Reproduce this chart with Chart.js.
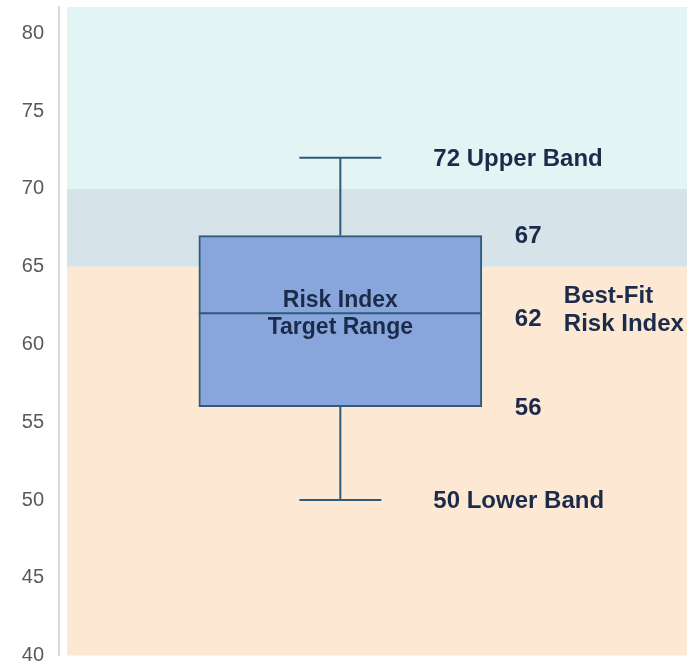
<!DOCTYPE html>
<html>
<head>
<meta charset="utf-8">
<script src="https://cdn.jsdelivr.net/npm/chart.js@4/dist/chart.umd.min.js"></script>
<style>
  html, body { margin: 0; padding: 0; background: #ffffff; }
  #wrap { width: 687px; height: 662px; position: relative; }
</style>
</head>
<body>
<div id="wrap"><canvas id="riskChart"></canvas></div>
<script>
// Risk index box plot over shaded zones

const yMin = 40;
const yMax = 81.7;
const yStep = 5;

// shaded zones behind the box (low, high, colour)
const zoneLows = [40, 65, 70];
const zoneHighs = [65, 70, 81.7];
const zoneColors = ['#fde9d3', '#d6e3e9', '#e3f4f5'];

// five-number summary
const whiskerLow = 50;
const boxLow = 56;
const median = 62;
const boxHigh = 67;
const whiskerHigh = 72;
const boxPosition = 44.8;

const boxTitle = ['Risk Index', 'Target Range'];
const medianTitle = ['Best-Fit', 'Risk Index'];
const upperName = 'Upper Band';
const lowerName = 'Lower Band';

const textColor = '#1c2b4a';
const lineColor = '#2e5b7b';

const zonesPlugin = {
  id: 'zones',
  beforeDatasetsDraw(chart) {
    const { ctx, chartArea } = chart;
    const y = chart.scales.y;
    ctx.save();
    for (let i = 0; i < zoneLows.length; i++) {
      const top = y.getPixelForValue(zoneHighs[i]);
      const bottom = y.getPixelForValue(zoneLows[i]);
      ctx.fillStyle = zoneColors[i];
      ctx.fillRect(chartArea.left + 8, top, chartArea.right - chartArea.left - 8, bottom - top);
    }
    ctx.restore();
  }
};

const boxPlotPlugin = {
  id: 'boxExtras',
  afterDatasetsDraw(chart) {
    const { ctx } = chart;
    const y = chart.scales.y;
    const bar = chart.getDatasetMeta(0).data[0];
    const cx = bar.x;
    const half = bar.width / 2;
    const capHalf = 41;

    ctx.save();
    ctx.strokeStyle = lineColor;
    ctx.lineWidth = 2;
    ctx.beginPath();
    // whiskers
    ctx.moveTo(cx, y.getPixelForValue(boxHigh));
    ctx.lineTo(cx, y.getPixelForValue(whiskerHigh));
    ctx.moveTo(cx - capHalf, y.getPixelForValue(whiskerHigh));
    ctx.lineTo(cx + capHalf, y.getPixelForValue(whiskerHigh));
    ctx.moveTo(cx, y.getPixelForValue(boxLow));
    ctx.lineTo(cx, y.getPixelForValue(whiskerLow));
    ctx.moveTo(cx - capHalf, y.getPixelForValue(whiskerLow));
    ctx.lineTo(cx + capHalf, y.getPixelForValue(whiskerLow));
    // median
    ctx.moveTo(cx - half, y.getPixelForValue(median));
    ctx.lineTo(cx + half, y.getPixelForValue(median));
    ctx.stroke();

    ctx.fillStyle = textColor;
    ctx.textBaseline = 'middle';
    const medY = y.getPixelForValue(median);

    // title inside the box
    ctx.font = 'bold 23px "Liberation Sans", Arial, sans-serif';
    ctx.textAlign = 'center';
    ctx.fillText(boxTitle[0], cx, medY - 13);
    ctx.fillText(boxTitle[1], cx, medY + 14);

    ctx.font = 'bold 24px "Liberation Sans", Arial, sans-serif';
    ctx.textAlign = 'left';
    // whisker labels
    ctx.fillText(whiskerHigh + ' ' + upperName, cx + capHalf + 52, y.getPixelForValue(whiskerHigh) + 2);
    ctx.fillText(whiskerLow + ' ' + lowerName, cx + capHalf + 52, y.getPixelForValue(whiskerLow) + 1);
    // box values
    const valX = cx + half + 33;
    ctx.fillText(String(boxHigh), valX, y.getPixelForValue(boxHigh) + 1);
    ctx.fillText(String(median), valX, medY + 6);
    ctx.fillText(String(boxLow), valX, y.getPixelForValue(boxLow) + 2);
    // median caption
    ctx.fillText(medianTitle[0], valX + 49, medY - 17);
    ctx.fillText(medianTitle[1], valX + 49, medY + 11);
    ctx.restore();
  }
};

new Chart(document.getElementById('riskChart'), {
  type: 'bar',
  data: {
    datasets: [{
      data: [{ x: boxPosition, y: [boxLow, boxHigh] }],
      backgroundColor: '#89a6dc',
      borderColor: lineColor,
      borderWidth: 2,
      borderSkipped: false,
      barThickness: 283
    }]
  },
  options: {
    responsive: true,
    maintainAspectRatio: false,
    animation: false,
    layout: { padding: { top: 7, bottom: 6.5, left: 0, right: 0 } },
    plugins: {
      legend: { display: false },
      tooltip: { enabled: false }
    },
    scales: {
      x: {
        type: 'linear',
        min: 0,
        max: 100,
        offset: false,
        display: false
      },
      y: {
        min: yMin,
        max: yMax,
        afterBuildTicks: (scale) => {
          scale.ticks = scale.ticks.filter(t => t.value % yStep === 0);
        },
        afterFit: (scale) => {
          scale.width = 59;
          scale.paddingTop = 0;
          scale.paddingBottom = 0;
        },
        grid: { display: false, drawTicks: false },
        border: { display: true, color: '#d9d9d9', width: 2 },
        ticks: {
          stepSize: yStep,
          padding: 15,
          color: '#595959',
          font: { family: '"Liberation Sans", Arial, sans-serif', size: 20 }
        }
      }
    }
  },
  plugins: [zonesPlugin, boxPlotPlugin]
});
</script>
</body>
</html>
